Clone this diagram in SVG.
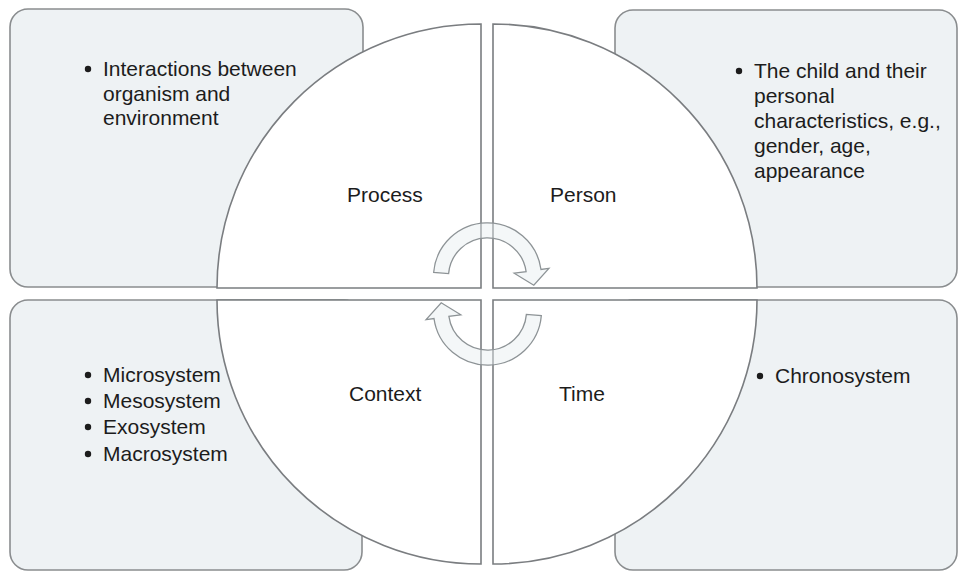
<svg xmlns="http://www.w3.org/2000/svg" width="958" height="574" viewBox="0 0 958 574">
  <style>
    .box { fill: #eef2f4; stroke: #8a8d8f; stroke-width: 1.6; }
    .quad { fill: #ffffff; stroke: #7a7d80; stroke-width: 1.6; }
    .arrow { fill: #e6edf0; fill-opacity: 0.45; stroke: #8d9396; stroke-width: 1.3; stroke-linejoin: miter; }
    .dot { fill: #1c1c1c; }
    text { font-family: "Liberation Sans", Arial, Helvetica, sans-serif; font-size: 21px; fill: #1c1c1c; }
  </style>
  <defs>
    <circle id="bullet" class="dot" cx="0" cy="0" r="3.2"/>
  </defs>
  <rect width="958" height="574" fill="#ffffff"/>

  <!-- corner boxes with descriptions -->
  <g id="process-notes">
    <rect class="box" x="10" y="9" width="353" height="278" rx="18"/>
    <use href="#bullet" x="88" y="69"/>
    <text x="103" y="76">Interactions between</text>
    <text x="103" y="100.5">organism and</text>
    <text x="103" y="125">environment</text>
  </g>
  <g id="person-notes">
    <rect class="box" x="615" y="10" width="342" height="277" rx="18"/>
    <use href="#bullet" x="739" y="71"/>
    <text x="754" y="78">The child and their</text>
    <text x="754" y="103">personal</text>
    <text x="754" y="128">characteristics, e.g.,</text>
    <text x="754" y="153">gender, age,</text>
    <text x="754" y="178">appearance</text>
  </g>
  <g id="context-notes">
    <rect class="box" x="10" y="300" width="352" height="270" rx="18"/>
    <use href="#bullet" x="88" y="375"/>
    <text x="103" y="382">Microsystem</text>
    <use href="#bullet" x="88" y="401"/>
    <text x="103" y="408">Mesosystem</text>
    <use href="#bullet" x="88" y="427"/>
    <text x="103" y="434">Exosystem</text>
    <use href="#bullet" x="88" y="454"/>
    <text x="103" y="461">Macrosystem</text>
  </g>
  <g id="time-notes">
    <rect class="box" x="615" y="300" width="342" height="270" rx="18"/>
    <use href="#bullet" x="760" y="376"/>
    <text x="775" y="383">Chronosystem</text>
  </g>

  <!-- circle split into four quarters -->
  <g id="process">
    <path class="quad" d="M481,288 L217,288 A264,264 0 0 1 481,24 Z"/>
    <text x="347" y="202">Process</text>
  </g>
  <g id="person">
    <path class="quad" d="M493,288 L493,24 A264,264 0 0 1 757,288 Z"/>
    <text x="550" y="202">Person</text>
  </g>
  <g id="context">
    <path class="quad" d="M481,300 L481,564 A264,264 0 0 1 217,300 Z"/>
    <text x="349" y="401">Context</text>
  </g>
  <g id="time">
    <path class="quad" d="M493,300 L757,300 A264,264 0 0 1 493,564 Z"/>
    <text x="559" y="401">Time</text>
  </g>

  <!-- circular arrows in the centre -->
  <g id="connectors">
    <path class="arrow" d="M433.7,272.3 A54,54 0 0 1 541.0,269.5 L548.9,268.4 L533.8,285.2 L514.2,273.2 L526.1,271.6 A39,39 0 0 0 448.6,273.6 Z"/>
    <path class="arrow" d="M541.3,315.7 A54,54 0 0 1 434.0,318.5 L426.1,319.6 L441.2,302.8 L460.8,314.8 L448.9,316.4 A39,39 0 0 0 526.4,314.4 Z"/>
  </g>
</svg>
